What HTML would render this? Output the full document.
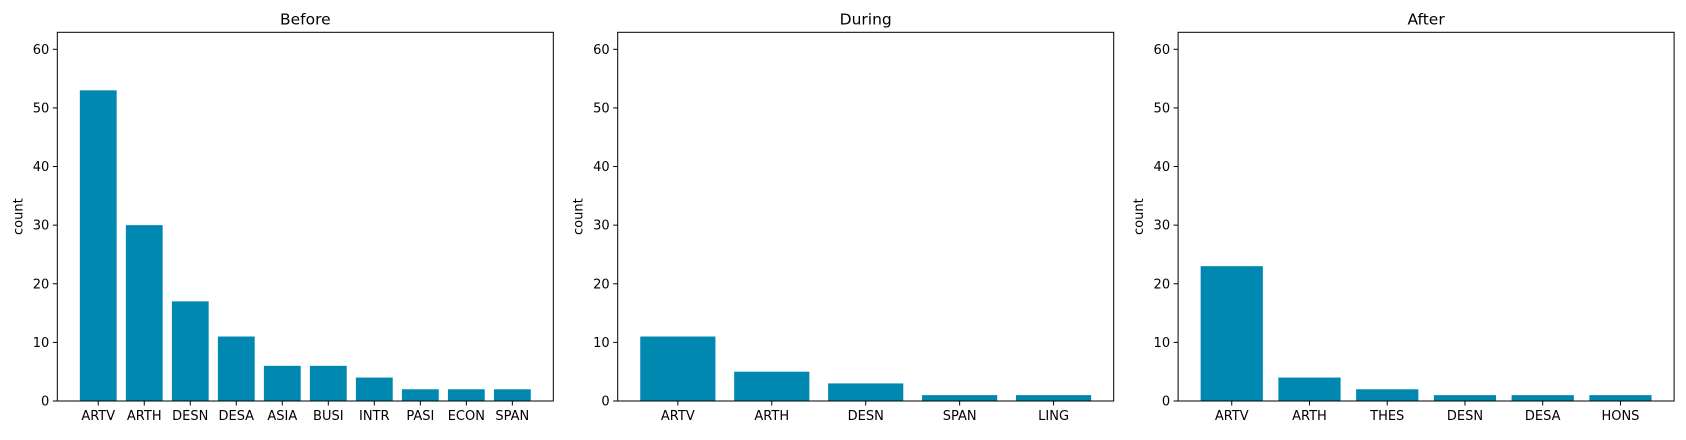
<!DOCTYPE html>
<html><head><meta charset="utf-8"><style>
body{margin:0;background:#fff}
text{font-family:"DejaVu Sans","Liberation Sans",sans-serif;fill:#000}
</style></head><body>
<svg id="chart" width="1686" height="435" xmlns="http://www.w3.org/2000/svg"></svg>
<script>
const titles = ["Before","During","After"];
const catsBefore = ["ARTV","ARTH","DESN","DESA","ASIA","BUSI","INTR","PASI","ECON","SPAN"];
const valsBefore = [53,30,17,11,6,6,4,2,2,2];
const catsDuring = ["ARTV","ARTH","DESN","SPAN","LING"];
const valsDuring = [11,5,3,1,1];
const catsAfter = ["ARTV","ARTH","THES","DESN","DESA","HONS"];
const valsAfter = [23,4,2,1,1,1];
const yTicks = [0,10,20,30,40,50,60];
const yMax = 62.9;

const svgEl = document.getElementById('chart');
const NS = "http://www.w3.org/2000/svg";
function mk(tag, attrs, parent){const e=document.createElementNS(NS,tag);for(const k in attrs)e.setAttribute(k,attrs[k]);parent.appendChild(e);return e;}
const panels = [[catsBefore,valsBefore],[catsDuring,valsDuring],[catsAfter,valsAfter]];
const lefts = [57.3, 617.7, 1178.1];
const W = 496, plotTop = 32.3, plotBottom = 401;
panels.forEach((p, i) => {
  const cats = p[0], vals = p[1];
  const g = mk('g', {}, svgEl);
  
  
  const L = lefts[i];
  const n = cats.length;
  const lo = -0.4 - (n - 0.2) * 0.05, hi = n - 0.6 + (n - 0.2) * 0.05;
  const x = v => L + (v - lo) / (hi - lo) * W;
  const y = v => plotBottom - v / yMax * (plotBottom - plotTop);
  vals.forEach((v, j) => {
    const r = mk('rect', {x: x(j - 0.4), y: y(v), width: x(j + 0.4) - x(j - 0.4), height: y(0) - y(v), fill: '#0088b0'}, g);
    
    
    mk('line', {x1: x(j), x2: x(j), y1: plotBottom, y2: plotBottom + 4.5, stroke: '#000', 'stroke-width': 1}, g);
    const t = mk('text', {x: x(j), y: plotBottom + 19, 'text-anchor': 'middle', 'font-size': 13}, g);
    t.textContent = cats[j];
    
    
  });
  yTicks.forEach(v => {
    mk('line', {x1: L - 4.5, x2: L, y1: y(v), y2: y(v), stroke: '#000', 'stroke-width': 1}, g);
    const t = mk('text', {x: L - 8, y: y(v) + 4.5, 'text-anchor': 'end', 'font-size': 13}, g);
    t.textContent = v;
    
    
  });
  const fr = mk('rect', {x: L, y: plotTop, width: W, height: plotBottom - plotTop, fill: 'none', stroke: '#000', 'stroke-width': 1}, g);
  
  
  const tt = mk('text', {x: L + W / 2, y: plotTop - 8, 'text-anchor': 'middle', 'font-size': 15.5}, g);
  tt.textContent = titles[i];
  
  
  const yl = mk('text', {x: 0, y: 0, 'text-anchor': 'middle', 'font-size': 13, transform: 'translate(' + (L - 35) + ',' + ((plotTop + plotBottom) / 2) + ') rotate(-90)'}, g);
  yl.textContent = 'count';
  
  
});
</script>
</body></html>
